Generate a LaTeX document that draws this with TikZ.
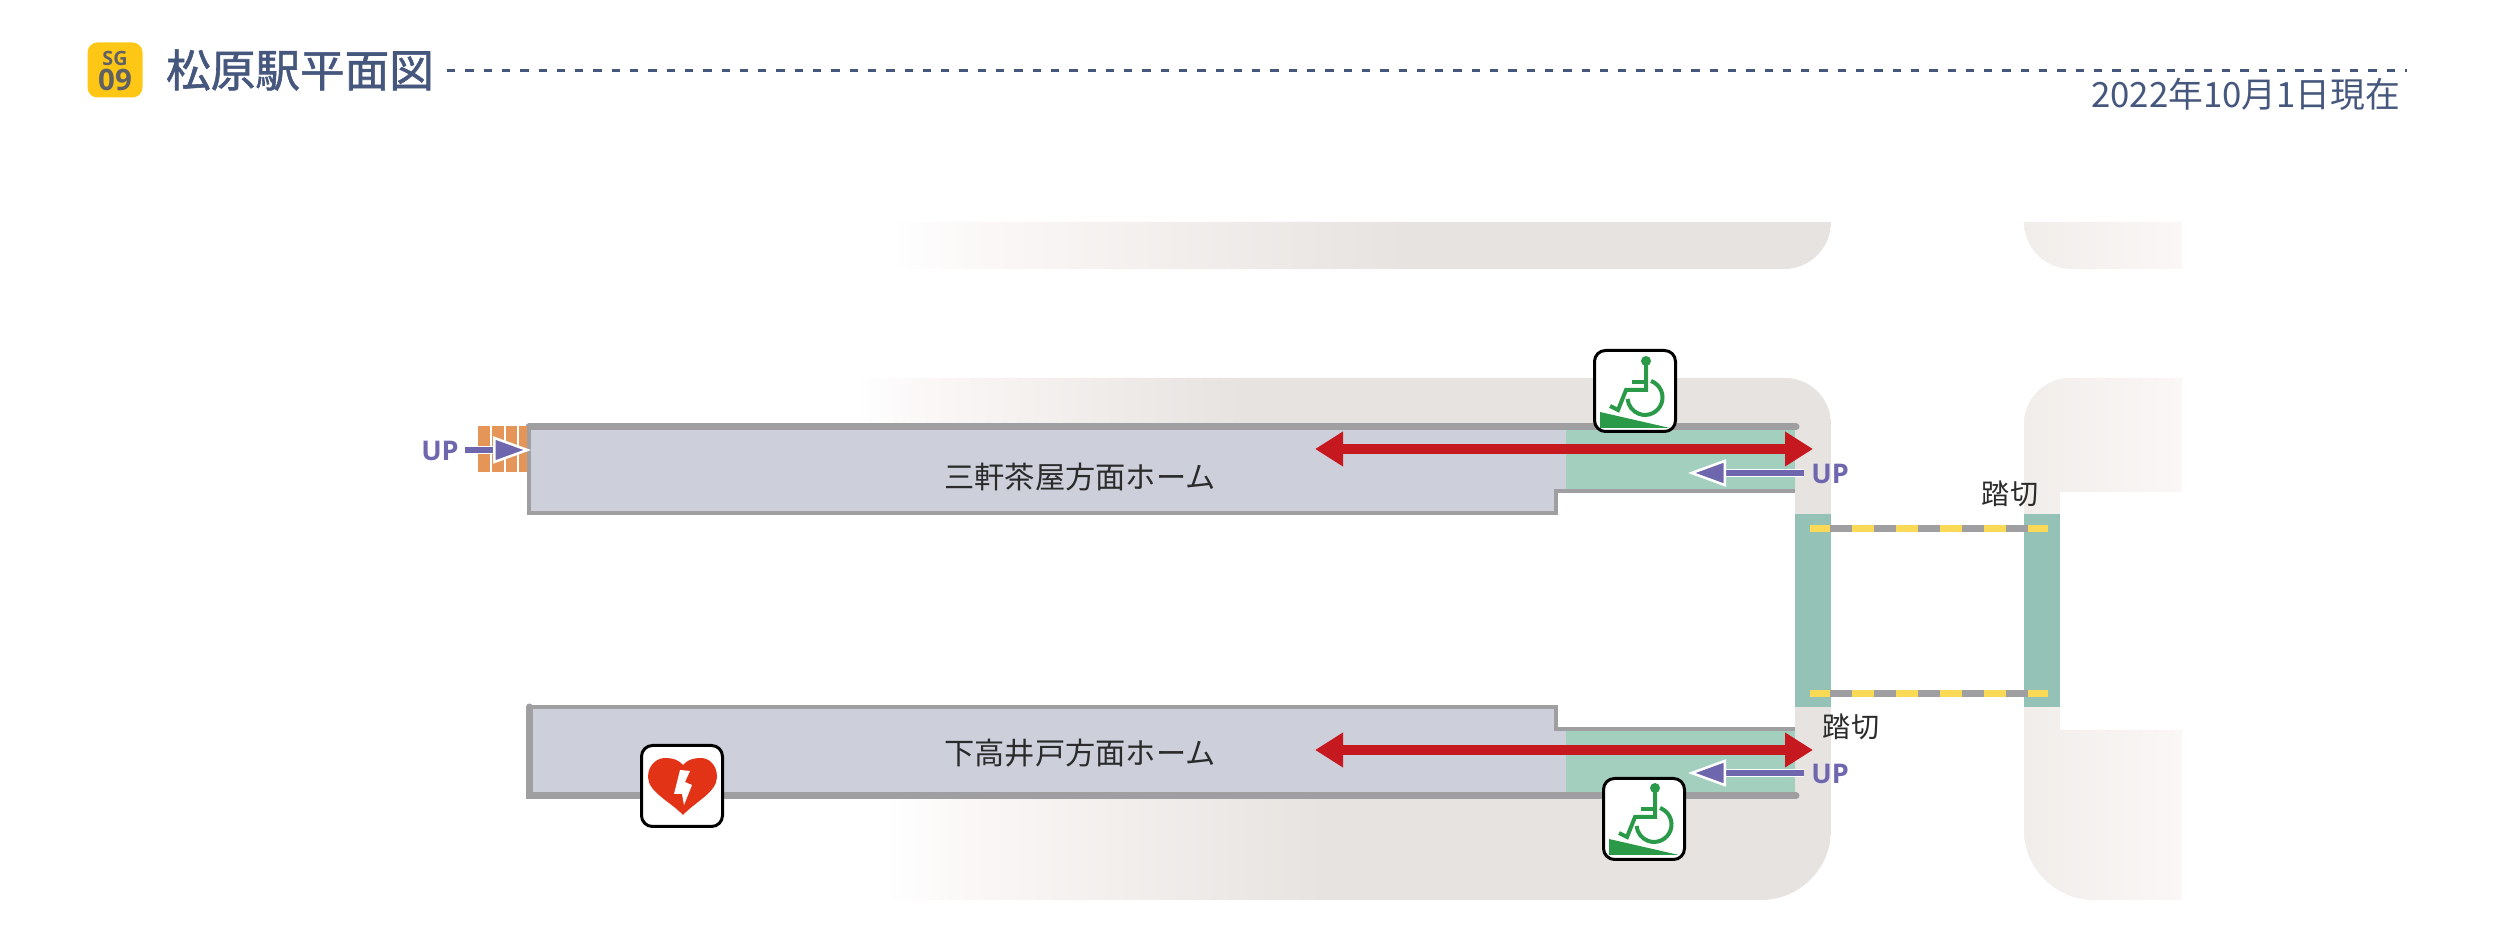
\documentclass[tikz,border=0pt]{standalone}
\usepackage{fontspec}
\setsansfont{Open Sans}
\newfontfamily\jpfont{Noto Sans CJK JP}
\newfontfamily\jptitle[FakeBold=1.3]{Noto Sans CJK JP}
\usetikzlibrary{arrows.meta}

\definecolor{roadgrey}{HTML}{E7E3E1}
\definecolor{roadpale}{HTML}{F0EDEB}
\definecolor{roadfaint}{HTML}{FAF7F6}
\definecolor{platformfill}{HTML}{CDCFDB}
\definecolor{edgegrey}{HTML}{9F9FA1}
\definecolor{rampgreen}{HTML}{A3CFBF}
\definecolor{crossteal}{HTML}{95C2B7}
\definecolor{barsyellow}{HTML}{F9D956}
\definecolor{redarrow}{HTML}{C5191F}
\definecolor{upviolet}{HTML}{6F67AE}
\definecolor{brickorange}{HTML}{E59557}
\definecolor{titleblue}{HTML}{46577E}
\definecolor{badgeyellow}{HTML}{FFC715}
\definecolor{badgegrey}{HTML}{5F6165}
\definecolor{iconsgreen}{HTML}{2A9A48}
\definecolor{heartred}{HTML}{E23317}
\definecolor{labelblack}{HTML}{2B2B2B}

\pgfdeclarehorizontalshading{roadfade}{100bp}{color(0bp)=(white); color(25bp)=(white);
    color(35bp)=(roadfaint); color(75bp)=(roadgrey); color(100bp)=(roadgrey)}

\tikzset{
    thinedge/.style={draw=edgegrey, line width=0.35mm, line join=miter},
    thickedge/.style={draw=edgegrey, line width=0.7mm, line cap=round},
    platformlabel/.style={font=\jpfont\fontsize{8.6pt}{10pt}\selectfont, text=labelblack},
    crossinglabel/.style={font=\jpfont\fontsize{8pt}{10pt}\selectfont, text=labelblack},
    uplabel/.style={font=\sffamily\bfseries\fontsize{7.7pt}{9pt}\selectfont, text=upviolet},
    iconbox/.style={draw=black, fill=white, line width=0.3mm, rounded corners=1.1mm, minimum size=8.1mm, inner sep=0pt},
    rednarrow/.style={draw=redarrow, line width=1.05mm, {Triangle[length=2.8mm,width=3.3mm,fill=redarrow]}-{Triangle[length=2.8mm,width=3.3mm,fill=redarrow]}},
    uphalo/.style={draw=white, line width=0.85mm, shorten >=2mm},
    uparrow/.style={draw=upviolet, line width=0.55mm, -{Triangle[length=3.8mm,width=2.7mm,line width=0.25mm,color=white,fill=upviolet]}},
    rampicon/.pic={
        \fill[iconsgreen] (53,11) circle (5);
        \fill[iconsgreen] (7,62) -- (7,78) -- (77,78) -- cycle;
        \draw[iconsgreen, line width=0.4mm] (53,13) -- (53,40) -- (33,40) -- (25,60) -- (17,56);
        \draw[iconsgreen, line width=0.4mm] (39,32) -- (53,32);
        \draw[iconsgreen, line width=0.4mm] (58,31) arc (-70:175:17.5);
    },
    aedicon/.pic={
        \fill[heartred] (42,71) .. controls (30,58) and (7,48) .. (7,33)
            .. controls (7,20) and (17,14) .. (24,14) .. controls (33,14) and (39,17) .. (42,21)
            .. controls (45,17) and (51,14) .. (60,14) .. controls (67,14) and (76,20) .. (76,33)
            .. controls (76,48) and (54,58) .. (42,71) -- cycle;
        \fill[white] (39,26) -- (49,27) -- (44,38) -- (51,41) -- (43,61) -- (41,50) -- (33,50) -- cycle;
    }
}

\begin{document}
\begin{tikzpicture}[x=0.1mm, y=-0.1mm]
    \useasboundingbox (0,0) rectangle (2500,950);

    % roads behind the station
    \begin{scope}
        \clip (880,222) -- (1831,222) arc (0:90:47) -- (880,269) -- cycle;
        \shade[shading=roadfade] (890,222) rectangle (1405,269);
        \fill[roadgrey] (1404,222) rectangle (1831,269);
    \end{scope}
    \begin{scope}
        \clip (850,378) -- (1785,378) arc (-90:0:46) -- (1831,830) arc (0:90:70)
            -- (850,900) -- (850,795) -- (1795,795) -- (1795,425) -- (850,425) -- cycle;
        \shade[shading=roadfade] (855,378) rectangle (1240,430);
        \fill[roadgrey] (1239,378) rectangle (1831,430);
        \shade[shading=roadfade] (885,790) rectangle (1325,900);
        \fill[roadgrey] (1324,790) rectangle (1831,900);
        \fill[roadgrey] (1790,430) rectangle (1831,790);
    \end{scope}
    \shade[left color=roadpale, right color=roadfaint] (2024,222) arc (180:90:47) -- (2182,269) -- (2182,222) -- cycle;
    \shade[left color=roadpale, right color=roadfaint] (2024,424) arc (180:270:46) -- (2182,378)
        -- (2182,492) -- (2060,492) -- (2060,730) -- (2182,730) -- (2182,900) -- (2094,900) arc (90:180:70) -- cycle;

    % platforms
    \fill[platformfill] (528,427) -- (1795,427) -- (1795,491) -- (1556,491) -- (1556,513) -- (528,513) -- cycle;
    \fill[rampgreen] (1566,427) rectangle (1795,491);
    \draw[thinedge] (1795,491) -- (1556,491) -- (1556,513) -- (529,513) -- (529,427);
    \draw[thickedge] (529,427) -- (1796,427);

    \fill[platformfill] (528,707) -- (1556,707) -- (1556,729) -- (1795,729) -- (1795,795) -- (528,795) -- cycle;
    \fill[rampgreen] (1566,729) rectangle (1795,795);
    \draw[thinedge] (529,707) -- (1556,707) -- (1556,729) -- (1795,729);
    \draw[thickedge] (529,707) -- (529,796) -- (1796,796);

    % level crossing
    \fill[crossteal] (1795,514) rectangle (1831,707);
    \fill[crossteal] (2024,514) rectangle (2060,707);
    \foreach \y in {529,694} {
        \draw[barsyellow, line width=0.7mm] (1810,\y) -- (2048,\y);
        \draw[edgegrey, line width=0.7mm, dash pattern=on 2.15mm off 2.25mm] (1830,\y) -- (2029,\y);
    }

    % brick wall at the end of the upper platform
    \fill[brickorange] (478,426) rectangle (527,472);
    \foreach \x in {491,505,518}
        \draw[white, line width=0.15mm] (\x,426) -- (\x,472);
    \draw[white, line width=0.15mm] (478,451) -- (527,451);

    % walking directions
    \coordinate (redtopl) at (1315,449);
    \coordinate (redtopr) at (1813,449);
    \coordinate (redbotl) at (1315,750);
    \coordinate (redbotr) at (1813,750);
    \draw[rednarrow] (redtopl) -- (redtopr);
    \draw[rednarrow] (redbotl) -- (redbotr);

    \coordinate (uphomes) at (465,450);
    \coordinate (uphomee) at (531,450);
    \coordinate (uptops) at (1804,473);
    \coordinate (uptope) at (1688,473);
    \coordinate (upbots) at (1804,773);
    \coordinate (upbote) at (1688,773);
    \foreach \from/\to in {uphomes/uphomee, uptops/uptope, upbots/upbote} {
        \draw[uphalo] (\from) -- (\to);
        \draw[uparrow] (\from) -- (\to);
    }

    \node[uplabel] (upa) at (440,451) {UP};
    \node[uplabel] (upb) at (1830,474) {UP};
    \node[uplabel] (upc) at (1830,774) {UP};

    % texts
    \node[platformlabel] (platformup) at (1080,477) {三軒茶屋方面ホーム};
    \node[platformlabel] (platformdown) at (1080,753) {下高井戸方面ホーム};
    \node[crossinglabel] (crossinga) at (2010,494) {踏切};
    \node[crossinglabel] (crossingb) at (1851,727) {踏切};

    % icons
    \node[iconbox] (rampup) at (1635,391) {};
    \pic at (1593,350) {rampicon};
    \node[iconbox] (rampdown) at (1644,819) {};
    \pic at (1602,777) {rampicon};
    \node[iconbox] (aed) at (682,786) {};
    \pic at (641,744) {aedicon};

    % header
    \node[fill=badgeyellow, rounded corners=1mm, minimum size=5.5mm, inner sep=0pt] (badge) at (115,70) {};
    \node[font=\sffamily\bfseries\fontsize{5.6pt}{6pt}\selectfont, text=badgegrey] (badgeline) at (115,58) {SG};
    \node[font=\sffamily\bfseries\fontsize{8.4pt}{9pt}\selectfont, text=badgegrey] (badgeno) at (115,80) {09};
    \node[font=\jptitle\fontsize{12.7pt}{14pt}\selectfont, text=titleblue] (title) at (300,70) {松原駅平面図};
    \coordinate (linestart) at (447,71);
    \coordinate (lineend) at (2407,71);
    \draw[titleblue, line width=0.3mm, dash pattern=on 0.83mm off 1mm] (linestart) -- (lineend);
    \node[anchor=east, inner sep=0pt, font=\jpfont\fontsize{9.9pt}{11pt}\selectfont, text=titleblue] (date) at (2401,94) {2022年10月1日現在};
\end{tikzpicture}
\end{document}
